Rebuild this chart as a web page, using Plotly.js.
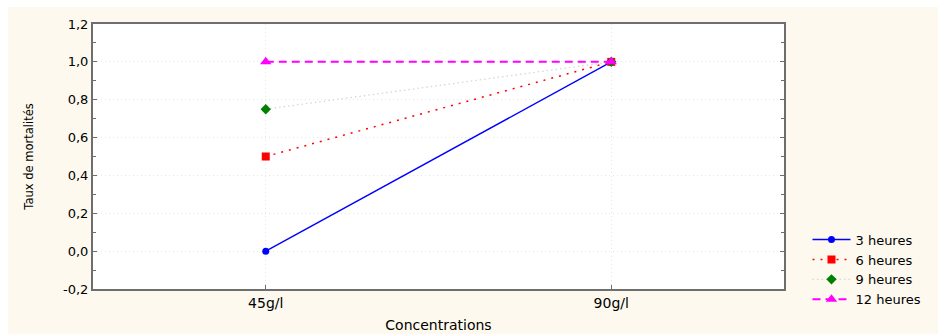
<!DOCTYPE html>
<html>
<head>
<meta charset="utf-8">
<script src="https://cdn.plot.ly/plotly-3.0.1.min.js"></script>
<style>
html,body{margin:0;padding:0;background:#ffffff;width:938px;height:334px;overflow:hidden;}
#chart{position:absolute;left:8px;top:7px;width:930px;height:327px;}
</style>
</head>
<body>
<div id="chart"></div>
<script>
const categories = ['45g/l', '90g/l'];
const seriesNames = ['3 heures', '6 heures', '9 heures', '12 heures'];
const h3 = [0.0, 1.0];
const h6 = [0.5, 1.0];
const h9 = [0.75, 1.0];
const h12 = [1.0, 1.0];
const yTickVals = [-0.2, 0.0, 0.2, 0.4, 0.6, 0.8, 1.0, 1.2];
const yTickText = ['-0,2', '0,0', '0,2', '0,4', '0,6', '0,8', '1,0', '1,2'];

const xIdx = categories.map((c, i) => i);

const traces = [
  {x: xIdx, y: h3, name: seriesNames[0], mode: 'lines+markers',
   line: {color: '#0000ff', width: 1.4, dash: 'solid'},
   marker: {symbol: 'circle', size: 7, color: '#0000ff'}},
  {x: xIdx, y: h6, name: seriesNames[1], mode: 'lines+markers',
   line: {color: '#ff0000', width: 1.5, dash: '2px,6px'},
   marker: {symbol: 'square', size: 8, color: '#ff0000'}},
  {x: xIdx, y: h9, name: seriesNames[2], mode: 'lines+markers',
   line: {color: '#d4d8d4', width: 1.3, dash: '1.5px,3px'},
   marker: {symbol: 'diamond', size: 8, color: '#008000'}},
  {x: xIdx, y: h12, name: seriesNames[3], mode: 'lines+markers',
   line: {color: '#ff00ff', width: 2, dash: '8px,5px'},
   marker: {symbol: 'triangle-up', size: 10, color: '#ff00ff'}}
];

const layout = {
  width: 930, height: 327,
  margin: {l: 85, r: 152, t: 17, b: 45},
  paper_bgcolor: '#fdf9ee',
  plot_bgcolor: '#ffffff',
  font: {family: '"DejaVu Sans", "Liberation Sans", Arial, sans-serif', size: 13, color: '#000000'},
  showlegend: true,
  legend: {x: 1.034, xanchor: 'left', y: 0.243, yanchor: 'top', itemwidth: 38,
           bgcolor: 'rgba(0,0,0,0)', font: {size: 13}, tracegroupgap: 0},
  xaxis: {
    range: [-0.5, 1.5],
    tickvals: xIdx, ticktext: categories,
    tickfont: {size: 14},
    showline: true, linecolor: '#6e6e6e', linewidth: 2, mirror: true,
    ticks: 'inside', ticklen: 4, tickcolor: '#6e6e6e',
    showgrid: true, gridcolor: '#e6e6e6', griddash: '1px,3px', gridwidth: 1,
    zeroline: false,
    title: {text: 'Concentrations', font: {size: 14}, standoff: 10}
  },
  yaxis: {
    range: [-0.2, 1.2],
    tickvals: yTickVals, ticktext: yTickText,
    showline: true, linecolor: '#6e6e6e', linewidth: 2, mirror: 'ticks',
    ticks: 'inside', ticklen: 4, tickcolor: '#6e6e6e',
    minor: {dtick: 0.1, ticks: 'inside', ticklen: 3, tickcolor: '#6e6e6e', showgrid: false},
    showgrid: true, gridcolor: '#e6e6e6', griddash: '1px,3px', gridwidth: 1,
    zeroline: false,
    title: {text: 'Taux de mortalités', font: {size: 11.5}, standoff: 27}
  }
};

Plotly.newPlot('chart', traces, layout, {displayModeBar: false, staticPlot: true});
</script>
</body>
</html>
